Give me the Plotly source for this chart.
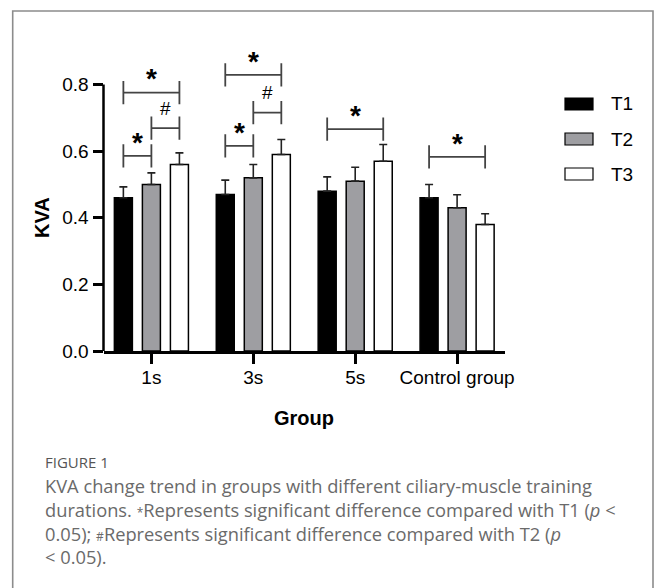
import plotly.graph_objects as go

# ---------------- data ----------------
groups = ["1s", "3s", "5s", "Control group"]
series = ["T1", "T2", "T3"]
t1 = [0.46, 0.47, 0.48, 0.46]
t2 = [0.50, 0.52, 0.51, 0.43]
t3 = [0.56, 0.59, 0.57, 0.38]
t1_err = [0.033, 0.043, 0.043, 0.040]
t2_err = [0.035, 0.040, 0.042, 0.039]
t3_err = [0.035, 0.045, 0.050, 0.032]
y_ticks = [0.0, 0.2, 0.4, 0.6, 0.8]

# significance brackets: group index, from series, to series, label, bracket level
sig_group = [0, 0, 0, 1, 1, 1, 2, 3]
sig_from = [0, 0, 1, 0, 0, 1, 0, 0]
sig_to = [2, 1, 2, 2, 1, 2, 2, 2]
sig_label = ["*", "*", "#", "*", "*", "#", "*", "*"]
sig_level = [0.776, 0.586, 0.669, 0.829, 0.616, 0.716, 0.666, 0.583]

caption_head = "FIGURE 1"
caption_lines = [
    "KVA change trend in groups with different ciliary-muscle training",
    "durations. <span style='font-size:12px'>*</span>Represents significant difference compared with T1 (<i>p</i> &lt;",
    "0.05); <span style='font-size:12px'>#</span>Represents significant difference compared with T2 (<i>p</i>",
    "&lt; 0.05).",
]

# ---------------- style ----------------
W, H = 658, 588
def px(x):
    return x / W
def py(y):
    return 1 - y / H

fills = ["#000000", "#9e9ea2", "#ffffff"]
values = [t1, t2, t3]
errors = [t1_err, t2_err, t3_err]
BARGAP = 0.175
BARGROUPGAP = 0.357
slot = (1 - BARGAP) / len(series)
AX = "Liberation Sans, Arial, sans-serif"
CAP = "Open Sans, sans-serif"
xpos = list(range(len(groups)))

fig = go.Figure()
for i, name in enumerate(series):
    fig.add_trace(go.Bar(
        x=xpos, y=values[i], name=name,
        marker=dict(color=fills[i], line=dict(color="#000000", width=1.5)),
        error_y=dict(type="data", symmetric=False, array=errors[i],
                     arrayminus=[0] * len(groups), color="#222222",
                     thickness=1.6, width=4),
        showlegend=False,
    ))

shapes = []
annotations = []

# y axis line (0 -> 0.8)
shapes.append(dict(type="line", xref="paper", yref="y", x0=px(103.5), x1=px(103.5),
                   y0=0, y1=y_ticks[-1], line=dict(color="black", width=2.5)))

# significance brackets
TICK_H = 0.035
label_dy = {"*": 0.041, "#": 0.06}
label_font = {"*": dict(family=AX, size=28, color="black"),
              "#": dict(family=AX, size=19, color="black")}
for g, a, b, lab, lev in zip(sig_group, sig_from, sig_to, sig_label, sig_level):
    xa = g + (a - 1) * slot
    xb = g + (b - 1) * slot
    lc = dict(color="#444444", width=1.8)
    shapes.append(dict(type="line", xref="x", yref="y", x0=xa, x1=xb, y0=lev, y1=lev, line=lc))
    for xx in (xa, xb):
        shapes.append(dict(type="line", xref="x", yref="y", x0=xx, x1=xx,
                           y0=lev - TICK_H, y1=lev + TICK_H, line=lc))
    annotations.append(dict(x=(xa + xb) / 2, y=lev + label_dy[lab], xref="x", yref="y",
                            text=("<b>*</b>" if lab == "*" else lab), showarrow=False,
                            xanchor="center", yanchor="middle", font=label_font[lab]))

# legend (manual, to match wide swatches)
leg_y = [104, 139, 174]
for i, name in enumerate(series):
    shapes.append(dict(type="rect", xref="paper", yref="paper",
                       x0=px(565), x1=px(593), y0=py(leg_y[i] + 6), y1=py(leg_y[i] - 6),
                       fillcolor=fills[i], line=dict(color="black", width=1.2)))
    annotations.append(dict(x=px(609), y=py(leg_y[i]), xref="paper", yref="paper",
                            text=name, showarrow=False, xanchor="left", yanchor="middle",
                            font=dict(family=AX, size=19, color="black")))

# axis titles
annotations.append(dict(x=px(41.5), y=py(217.5), xref="paper", yref="paper", text="<b>KVA</b>",
                        textangle=-90, showarrow=False, xanchor="center", yanchor="middle",
                        font=dict(family=AX, size=20, color="black")))
annotations.append(dict(x=px(304), y=py(418), xref="paper", yref="paper", text="<b>Group</b>",
                        showarrow=False, xanchor="center", yanchor="middle",
                        font=dict(family=AX, size=20, color="black")))

# caption
annotations.append(dict(x=px(43), y=py(462), xref="paper", yref="paper", text=caption_head,
                        showarrow=False, xanchor="left", yanchor="middle",
                        font=dict(family=CAP, size=15, color="#555555")))
annotations.append(dict(x=px(43), y=py(521.3), xref="paper", yref="paper",
                        text="<br>".join(caption_lines), align="left",
                        showarrow=False, xanchor="left", yanchor="middle",
                        font=dict(family=CAP, size=18.3, color="#6a6a6a")))

# outer frame
shapes.append(dict(type="rect", xref="paper", yref="paper", x0=px(12.7), x1=px(653),
                   y0=py(600), y1=py(11), line=dict(color="#8c8c8c", width=1.6),
                   fillcolor="rgba(0,0,0,0)", layer="below"))

fig.update_layout(
    width=W, height=H,
    margin=dict(l=0, r=0, t=0, b=0),
    paper_bgcolor="white", plot_bgcolor="white",
    barmode="group", bargap=BARGAP, bargroupgap=BARGROUPGAP,
    showlegend=False,
    shapes=shapes, annotations=annotations,
    xaxis=dict(domain=[px(103.5), px(505)], range=[-0.47, 3.47],
               tickmode="array", tickvals=xpos, ticktext=groups,
               ticks="outside", ticklen=10, tickwidth=2.5, tickcolor="black",
               ticklabelstandoff=-3,
               showline=True, linewidth=2.5, linecolor="black",
               showgrid=False, zeroline=False, automargin=False,
               tickfont=dict(family=AX, size=19, color="black")),
    yaxis=dict(domain=[py(351), py(41.3)], range=[0, 0.93],
               tickmode="array", tickvals=y_ticks, ticktext=[f"{v:.1f}" for v in y_ticks],
               ticks="outside", ticklen=10, tickwidth=2.5, tickcolor="black",
               showline=False, showgrid=False, zeroline=False, automargin=False,
               tickfont=dict(family=AX, size=19, color="black")),
)

fig.write_html("out.html", config={"displayModeBar": False},
               post_script="document.body.style.margin='0';")
